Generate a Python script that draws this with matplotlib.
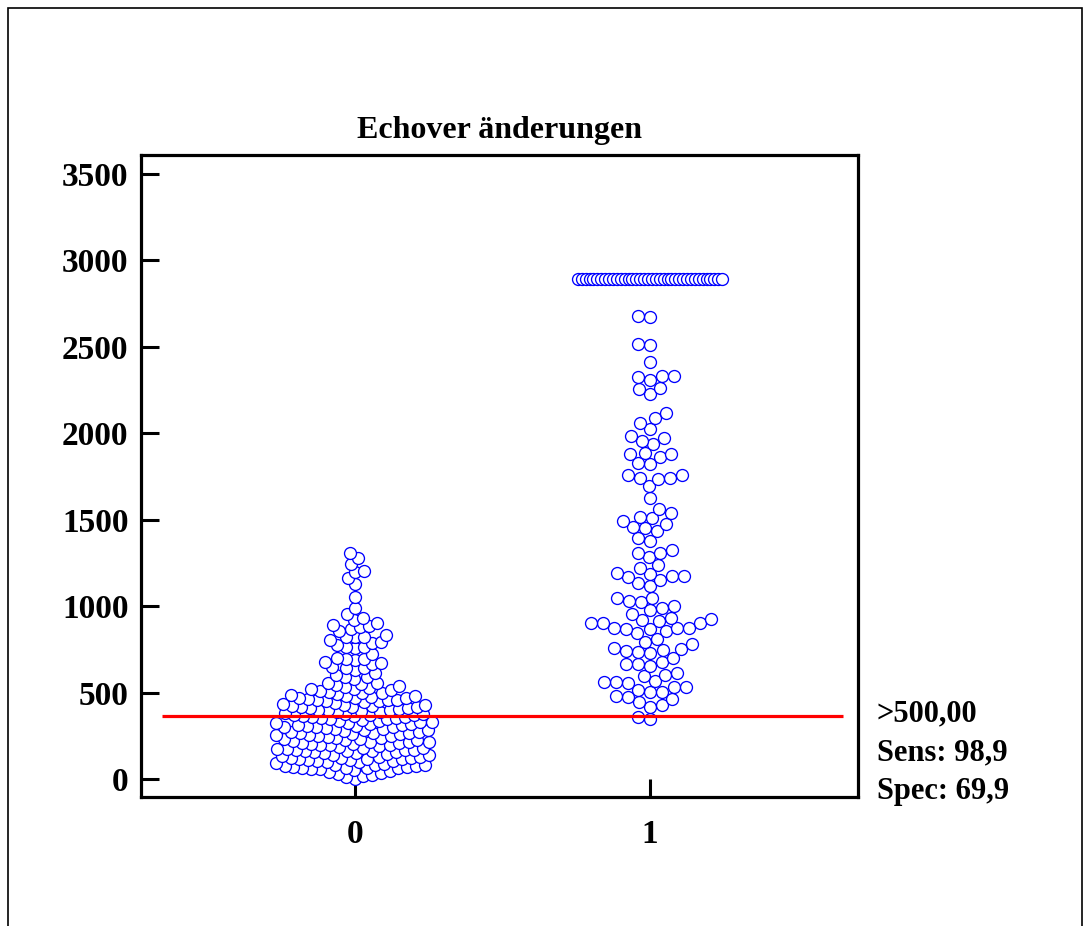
import numpy as np
import matplotlib
matplotlib.use("Agg")
import matplotlib.pyplot as plt
from matplotlib.patches import Rectangle

# values
title = "Echover änderungen"
categories = [0, 1]
yticks = [0, 500, 1000, 1500, 2000, 2500, 3000, 3500]

group0 = [
    # dense block, 0 - 520
    0, 12, 23, 29, 35, 40, 46, 18,
    52, 58, 61, 66, 69, 73, 75, 79, 81, 84, 88, 64, 70, 57, 92, 62,
    98, 103, 106, 109, 111, 115, 118, 121, 124, 127, 130, 133, 101, 113, 137, 141, 119,
    147, 151, 155, 158, 161, 164, 167, 170, 173, 176, 179, 182, 186, 153, 168, 189, 162,
    194, 197, 201, 204, 207, 211, 214, 217, 220, 223, 226, 229, 233, 236, 199, 215, 240,
    245, 248, 252, 255, 258, 261, 264, 268, 271, 274, 277, 281, 284, 287, 250, 266, 291,
    296, 299, 302, 306, 309, 312, 315, 318, 322, 325, 328, 331, 334, 338, 300, 317, 342,
    347, 350, 353, 357, 360, 363, 366, 370, 373, 376, 379, 382, 386, 389, 352, 368,
    395, 398, 402, 405, 408, 411, 414, 417, 421, 424, 427, 430, 434, 437, 400, 419,
    445, 449, 452, 456, 459, 463, 466, 470, 474, 478, 481, 485, 468, 457,
    492, 498, 498, 503, 509, 515, 521, 521, 527, 532, 538, 544, 550, 555, 555,
    # upper part
    578, 590, 590, 602, 613, 631, 642, 642, 648, 665, 671, 677, 688, 694, 694, 700,
    723, 758, 764, 764, 775, 787, 792, 804, 821, 821, 821, 833, 856, 868, 880, 885,
    891, 900, 920, 930, 955, 989, 1053, 1128, 1163, 1198, 1203, 1244, 1278, 1307,
]

group1 = [
    2678, 2673, 2516, 2511, 2412, 2331, 2331, 2325, 2308, 2262, 2256, 2227,
    2117, 2088, 2060, 2025, 1984, 1973, 1955, 1938, 1886, 1880, 1880, 1863,
    1828, 1822, 1759, 1759, 1741, 1741, 1736, 1695, 1626, 1562, 1539, 1516,
    1510, 1493, 1475, 1458, 1452, 1435, 1394, 1377, 1325, 1307, 1307, 1284,
    1238, 1221, 1192, 1186, 1174, 1174, 1169, 1151, 1134, 1116, 1047, 1047,
    1030, 1024, 1001, 989, 978, 955, 931, 925, 920, 914, 902, 902, 902,
    873, 873, 873, 868, 868, 856, 845, 810, 792, 781, 758, 752, 746, 740,
    735, 729, 700, 677, 665, 665, 654, 613, 602, 596, 567, 561, 561, 555,
    532, 532, 515, 503, 503, 480, 474, 463, 445, 428, 417, 359, 347,
]
# values above the display range, drawn as one row
group1_top = [2890] * 38

cutoff = 365
stats_lines = [">500,00", "Sens: 98,9", "Spec: 69,9"]

plt.rcParams["font.family"] = ["Liberation Serif", "DejaVu Serif"]
plt.rcParams["font.weight"] = "bold"

fig = plt.figure(figsize=(10.9, 9.26), dpi=100)
ax = fig.add_axes([141 / 1090, 129 / 926, 717 / 1090, 642 / 926])
ax.set_xlim(-0.725, 1.705)
ax.set_ylim(-104, 3610)


def swarm_x(ax, xc, values, d):
    # simple beeswarm in pixel space, d = collision distance in px
    pts = ax.transData.transform(np.column_stack([np.full(len(values), xc), values]))
    ys = pts[:, 1]
    offs = np.zeros(len(values))
    placed = []
    for i in np.argsort(ys, kind="stable"):
        y = ys[i]
        near = [(px, py) for px, py in placed if abs(py - y) < d]
        cands = [0.0]
        for px, py in near:
            dx = np.sqrt(d * d - (py - y) ** 2)
            cands += [px - dx, px + dx]
        c = 0.0
        for c in sorted(cands, key=abs):
            if all((c - px) ** 2 + (y - py) ** 2 >= d * d - 1e-6 for px, py in near):
                break
        offs[i] = c
        placed.append((c, y))
    back = ax.transData.inverted().transform(np.column_stack([pts[:, 0] + offs, ys]))
    return back[:, 0]


def row_x(ax, xc, values, step):
    pts = ax.transData.transform(np.column_stack([np.full(len(values), xc), values]))
    offs = (np.arange(len(values)) - (len(values) - 1) / 2) * step
    back = ax.transData.inverted().transform(np.column_stack([pts[:, 0] + offs, pts[:, 1]]))
    return back[:, 0]


mk = dict(s=74, facecolors="white", edgecolors="#0000ff", linewidths=0.95)
for xc, vals, d in [(categories[0], group0, 9.0), (categories[1], group1, 12.0)]:
    vals = np.sort(np.array(vals, dtype=float))
    xs = swarm_x(ax, xc, vals, d)
    ax.scatter(xs, vals, zorder=3, **mk)
xs = row_x(ax, categories[1], group1_top, 3.9)
ax.scatter(xs, group1_top, zorder=3, **mk)

ax.plot([-0.654, 1.654], [cutoff, cutoff], color="#ff0000", lw=2.3, zorder=4,
        solid_capstyle="butt")

ax.set_xticks(categories)
ax.set_xticklabels([str(c) for c in categories])
ax.set_yticks(yticks)
ax.tick_params(direction="in", length=13, width=2.2, labelsize=24, pad=9)
ax.tick_params(axis="x", pad=16)
for sp in ax.spines.values():
    sp.set_linewidth(2.3)
ax.set_title(title, fontsize=23, fontweight="bold", pad=12)

for k, s in enumerate(stats_lines):
    fig.text(877 / 1090, 1 - (714 + 39 * k) / 926, s, fontsize=22, fontweight="bold",
             ha="left", va="center")

# outer frame of the exported picture (bottom edge cut off)
fig.patches.append(Rectangle((8 / 1090, -0.05), (1082 - 8) / 1090, 1.05 - 8 / 926,
                             transform=fig.transFigure, fill=False, edgecolor="black",
                             linewidth=1.2, clip_on=False))

fig.savefig("out.png", dpi=100)
